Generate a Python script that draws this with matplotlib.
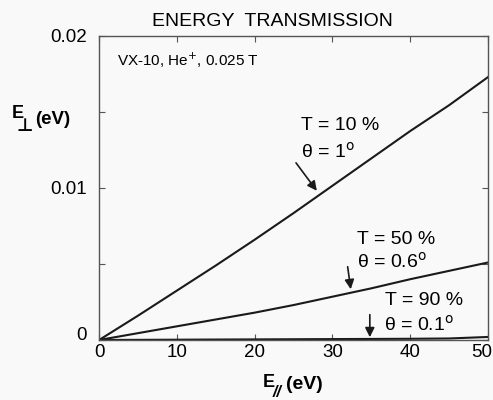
import matplotlib
matplotlib.use("Agg")
import matplotlib.pyplot as plt
from matplotlib.ticker import MultipleLocator
from matplotlib.transforms import IdentityTransform, offset_copy

plt.rcParams['font.family'] = ['Liberation Sans', 'DejaVu Sans']

e_par = [0, 5, 10, 15, 20, 25, 30, 35, 40, 45, 50]
t10 = [0, 0.00160, 0.00325, 0.00490, 0.00660, 0.00835, 0.01015, 0.01195, 0.01375, 0.01545, 0.01730]
t50 = [0, 0.00045, 0.00090, 0.00135, 0.00180, 0.00230, 0.00285, 0.00340, 0.00400, 0.00455, 0.00510]
t90 = [0, 0.00001, 0.00002, 0.00003, 0.00004, 0.00005, 0.00006, 0.00007, 0.00008, 0.00010, 0.00020]
x_ticks = [0, 10, 20, 30, 40, 50]
y_ticks = [0, 0.01, 0.02]
y_tick_labels = ['0', '0.01', '0.02']

bg = '#f9f9f9'
fig = plt.figure(figsize=(4.93, 4.0), dpi=100, facecolor=bg)
ax = fig.add_axes([0.201, 0.15, 0.789, 0.76], facecolor=bg)

lc = '#1a1a1a'
for ys in (t10, t50, t90):
    ax.plot(e_par, ys, color=lc, lw=1.5)

ax.set_xlim(0, 50)
ax.set_ylim(0, 0.02)
ax.set_xticks(x_ticks)
ax.set_yticks(y_ticks)
ax.set_yticklabels(y_tick_labels)
ax.yaxis.set_minor_locator(MultipleLocator(0.005))
ax.tick_params(which='both', direction='in', top=True, right=True, length=4,
               width=0.8, color='#555555', labelsize=13.5)
ax.tick_params(axis='x', pad=3)
ax.tick_params(axis='y', pad=9)
for s in ax.spines.values():
    s.set_color('#555555')
    s.set_linewidth(1.0)

# nudge the y "0" label up and the x "50" label left, as in the reference
fig.canvas.draw()
for lab in ax.get_yticklabels():
    if lab.get_text() == '0':
        lab.set_transform(offset_copy(lab.get_transform(), fig=fig, x=0, y=6, units='dots'))
for lab in ax.get_xticklabels():
    if lab.get_text() == '50':
        lab.set_transform(offset_copy(lab.get_transform(), fig=fig, x=-6, y=0, units='dots'))

pix = IdentityTransform()
fig.text(152, 400 - 26, 'ENERGY  TRANSMISSION', fontsize=14, transform=pix)
ax.text(2.3, 0.0184, 'VX-10, He$^{+}$, 0.025 T', fontsize=11, va='center')

# y label E_perp (eV), drawn in pixel coordinates
fig.text(12, 400 - 118, 'E', fontsize=13, fontweight='bold', transform=pix)
fig.text(17, 400 - 131, '⊥', fontsize=13, fontweight='bold', transform=pix,
         family=['DejaVu Sans'])
fig.text(35, 400 - 124, '(eV)', fontsize=13.5, fontweight='bold', transform=pix)

# x label E_// (eV)
fig.text(263, 400 - 387, 'E', fontsize=13, fontweight='bold', transform=pix)
fig.text(273, 400 - 397, '//', fontsize=11.5, fontweight='bold', style='italic', transform=pix)
fig.text(286, 400 - 389, '(eV)', fontsize=14, fontweight='bold', transform=pix)

ax.text(26.0, 0.01414, 'T = 10 %', fontsize=14, va='center')
ax.text(26.0, 0.01237, 'θ = 1$^{\\rm o}$', fontsize=14, va='center')
ax.annotate('', xy=(28.2, 0.00967), xytext=(25.1, 0.0118),
            arrowprops=dict(arrowstyle='-|>', color=lc, lw=1.2, mutation_scale=14))

ax.text(33.1, 0.00658, 'T = 50 %', fontsize=14, va='center')
ax.text(33.1, 0.00513, 'θ = 0.6$^{\\rm o}$', fontsize=14, va='center')
ax.annotate('', xy=(32.4, 0.00316), xytext=(31.9, 0.0050),
            arrowprops=dict(arrowstyle='-|>', color=lc, lw=1.2, mutation_scale=14))

ax.text(36.7, 0.00263, 'T = 90 %', fontsize=14, va='center')
ax.text(36.6, 0.00099, 'θ = 0.1$^{\\rm o}$', fontsize=14, va='center')
ax.annotate('', xy=(34.8, 0.0), xytext=(34.8, 0.00185),
            arrowprops=dict(arrowstyle='-|>', color=lc, lw=1.2, mutation_scale=14))

fig.savefig('out.png', dpi=100, facecolor=bg)
